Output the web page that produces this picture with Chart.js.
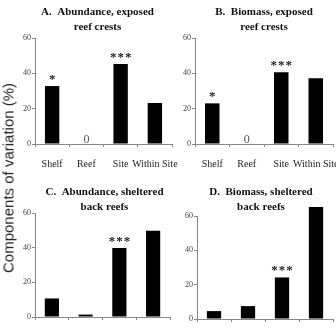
<!DOCTYPE html>
<html><head><meta charset="utf-8">
<script src="https://cdn.jsdelivr.net/npm/chart.js@4/dist/chart.umd.min.js"></script>
<style>
html,body{margin:0;padding:0;background:#fff;width:336px;height:328px;overflow:hidden}
canvas{position:absolute;left:0;top:0}
#ylab{position:absolute;left:8px;top:178px;transform:translate(-50%,-50%) rotate(-90deg);white-space:nowrap;font:15px 'Liberation Sans',Arial,sans-serif;color:#222}
</style></head><body>
<canvas id="cA" width="336" height="328"></canvas>
<canvas id="cB" width="336" height="328"></canvas>
<canvas id="cC" width="336" height="328"></canvas>
<canvas id="cD" width="336" height="328"></canvas>
<div id="ylab">Components of variation (%)</div>
<script>
const categories = ['Shelf', 'Reef', 'Site', 'Within Site'];
const abundanceExposed = [32.8, 0, 45.3, 23.2];
const biomassExposed = [23.0, 0, 40.6, 37.2];
const abundanceSheltered = [10.7, 1.4, 39.8, 49.7];
const biomassSheltered = [4.6, 7.5, 24.2, 65.2];
const sigAbundanceExposed = ['*', '0', '***', ''];
const sigBiomassExposed = ['*', '0', '***', ''];
const sigAbundanceSheltered = ['', '', '***', ''];
const sigBiomassSheltered = ['', '', '***', ''];
const titleA = ['A.  Abundance, exposed', 'reef crests'];
const titleB = ['B.  Biomass, exposed', 'reef crests'];
const titleC = ['C.  Abundance, sheltered', 'back reefs'];
const titleD = ['D.  Biomass, sheltered', 'back reefs'];
const yMin = 0, yMax = 60, yStep = 20;

const annotPlugin = {
  id: 'annot',
  afterDatasetsDraw(chart, args, opts) {
    const ctx = chart.ctx, meta = chart.getDatasetMeta(0), ys = chart.scales.y;
    const marks = opts.marks || [];
    ctx.save();
    ctx.textAlign = 'center';
    ctx.textBaseline = 'alphabetic';
    meta.data.forEach((bar, i) => {
      const m = marks[i];
      if (!m) return;
      if (m === '0') {
        ctx.font = '12px "Liberation Serif"';
        ctx.fillStyle = '#555';
        ctx.fillText(m, bar.x, ys.getPixelForValue(0) - 1);
      } else {
        ctx.font = 'bold 13px "Liberation Serif"';
        ctx.fillStyle = '#222';
        ctx.letterSpacing = '1px';
        ctx.fillText(m, bar.x + 0.5, bar.y - 3);
        ctx.letterSpacing = '0px';
      }
    });
    const t = opts.title;
    if (t) {
      ctx.font = 'bold 11px "Liberation Serif"';
      ctx.fillStyle = '#111';
      ctx.textBaseline = 'middle';
      const ca = chart.chartArea;
      const cx = (ca.left + ca.right) / 2 + (opts.titleDx || 0);
      t.forEach((line, k) => ctx.fillText(line, cx, opts.titleY + k * 15));
    }
    ctx.restore();
  }
};

function makeChart(id, values, marks, title, area, showLabels, titleDx, titleY) {
  const W = 336, H = 328, YW = 30, XH = 30;
  new Chart(document.getElementById(id), {
    type: 'bar',
    data: { labels: categories, datasets: [{ data: values, backgroundColor: '#000', borderWidth: 0, categoryPercentage: 1, barPercentage: 0.42, clip: false }] },
    options: {
      responsive: false, animation: false, devicePixelRatio: 1,
      layout: { padding: { left: area.l - YW, right: W - area.r, top: area.t, bottom: H - area.b - XH } },
      plugins: { legend: { display: false }, tooltip: { enabled: false }, annot: { marks, title, titleDx, titleY } },
      scales: {
        x: {
          grid: { display: true, drawOnChartArea: false, drawTicks: true, tickLength: 3, color: '#888', offset: true },
          border: { color: '#888' },
          ticks: { display: showLabels, font: { family: 'Liberation Serif', size: 10 }, color: '#222', padding: 11, maxRotation: 0, autoSkip: false },
          afterFit(s) { s.height = XH; s.paddingLeft = 0; s.paddingRight = 0; }
        },
        y: {
          min: yMin, max: yMax,
          grid: { drawOnChartArea: false, tickLength: 3, color: '#888' },
          border: { color: '#888' },
          ticks: { stepSize: yStep, font: { family: 'Liberation Serif', size: 8 }, color: '#444', padding: 1 },
          afterFit(s) { s.width = YW; s.paddingTop = 0; s.paddingBottom = 0; }
        }
      }
    },
    plugins: [annotPlugin]
  });
}

makeChart('cA', abundanceExposed, sigAbundanceExposed, titleA, { l: 35, r: 172, t: 38, b: 144 }, true, -6, 12);
makeChart('cB', biomassExposed, sigBiomassExposed, titleB, { l: 195, r: 333, t: 38, b: 144 }, true, 0, 12);
makeChart('cC', abundanceSheltered, sigAbundanceSheltered, titleC, { l: 35, r: 170, t: 213, b: 317 }, false, 2, 192);
makeChart('cD', biomassSheltered, sigBiomassSheltered, titleD, { l: 197, r: 333, t: 216, b: 319 }, false, -4, 192);
</script>
</body></html>
